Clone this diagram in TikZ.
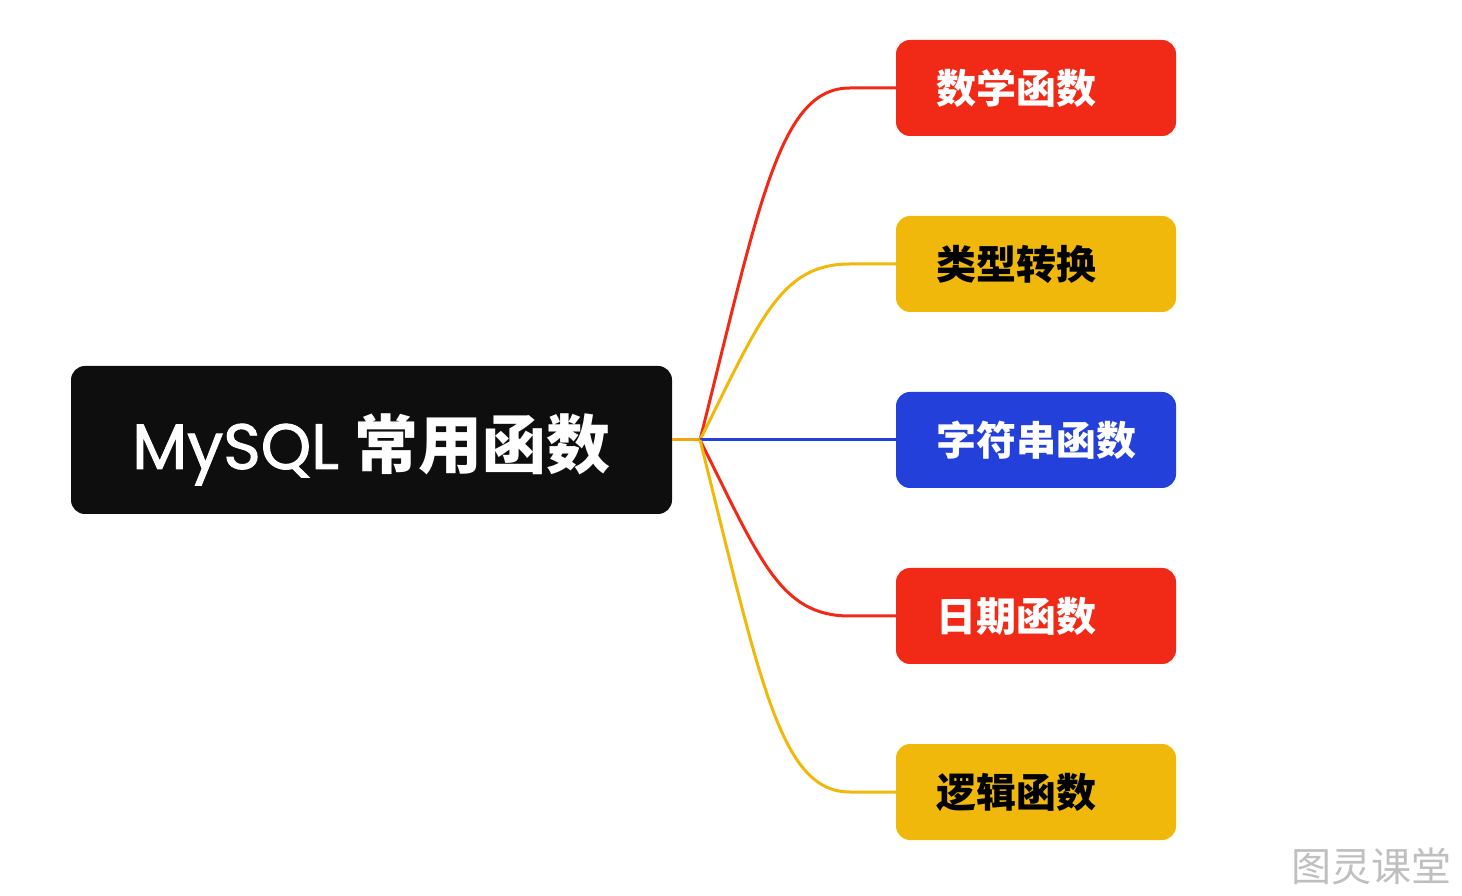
\documentclass[tikz,border=0pt]{standalone}
\usepackage{fontspec}
\newfontfamily\cjk{Noto Sans CJK SC}
\newfontfamily\latin{Poppins}[FakeBold=1.5]
\usetikzlibrary{positioning,calc}
\definecolor{mmblack}{HTML}{0E0E0E}
\definecolor{mmred}{HTML}{F12917}
\definecolor{mmyellow}{HTML}{F0B80B}
\definecolor{mmblue}{HTML}{2340DA}
\definecolor{mmorange}{HTML}{F2A60C}

\begin{document}
\begin{tikzpicture}[x=1pt,y=1pt,
root/.style={fill=mmblack,rounded corners=14pt,minimum width=601pt,minimum height=148pt,text=white,text height=58pt,text depth=0pt},
branch/.style={rounded corners=14pt,minimum width=280pt,minimum height=96pt,text width=200pt,inner xsep=40pt,inner ysep=0pt,align=left,font={\cjk\bfseries\fontsize{40}{44}\selectfont}},
conn/.style={line width=3pt}]
\useasboundingbox (0,0) rectangle (1462,895);
\node[root] (root) at (371.5,455) {{\latin\fontsize{64}{70}\selectfont MySQL}\hspace{16pt}{\cjk\bfseries\fontsize{64}{70}\selectfont 常用函数}};
\coordinate (hub) at (700,455);
\node[branch,fill=mmred,text=white] (math) at (1036,807) {数学函数};
\node[branch,fill=mmyellow,text=black] (cast) at (1036,631) {类型转换};
\node[branch,fill=mmblue,text=white] (str) at (1036,455) {字符串函数};
\node[branch,fill=mmred,text=white] (date) at (1036,279) {日期函数};
\node[branch,fill=mmyellow,text=black] (logic) at (1036,103) {逻辑函数};
\draw[conn,draw=mmorange] (root.east) -- (hub);
\foreach \n/\c/\dy in {math/mmred/352,cast/mmyellow/176,str/mmblue/0,date/mmred/-176,logic/mmyellow/-352}
  \draw[conn,draw=\c] (hub) .. controls +(60,{0.68*\dy}) and +(-70,0) .. ($(\n.west)+(-46,0)$) -- (\n.west);
% watermark
\node[text=gray!50,font={\cjk\fontsize{40}{44}\selectfont}] (mark) at (1371,29) {图灵课堂};
\end{tikzpicture}
\end{document}
